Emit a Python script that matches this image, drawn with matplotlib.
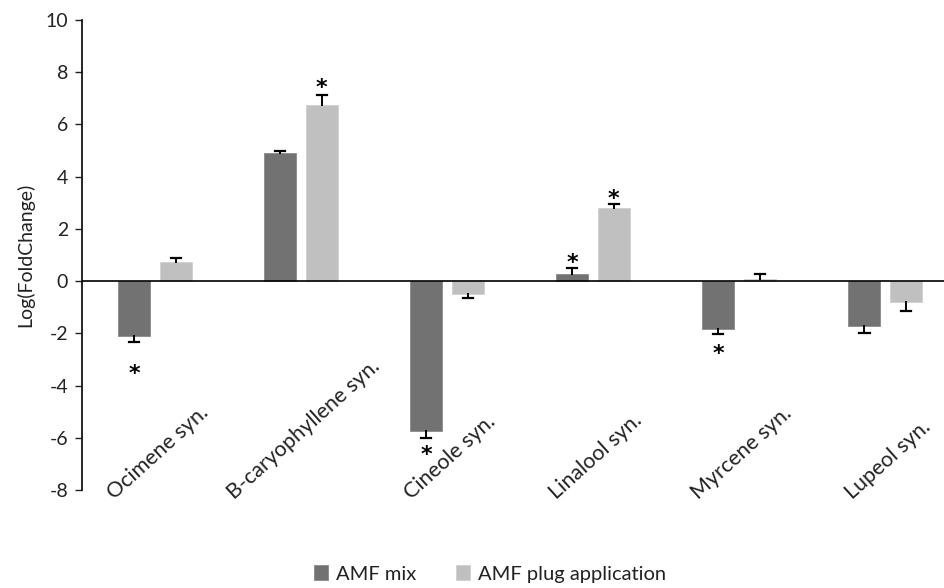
import matplotlib.pyplot as plt
import numpy as np

plt.rcParams['font.family'] = ['Lato', 'DejaVu Sans']
plt.rcParams['axes.unicode_minus'] = False

categories = ["Ocimene syn.", "B-caryophyllene syn.", "Cineole syn.",
              "Linalool syn.", "Myrcene syn.", "Lupeol syn."]
amf_mix = [-2.11, 4.90, -5.75, 0.28, -1.83, -1.71]
amf_mix_err = [0.22, 0.09, 0.25, 0.22, 0.19, 0.27]
amf_plug = [0.72, 6.76, -0.51, 2.81, 0.09, -0.79]
amf_plug_err = [0.18, 0.38, 0.15, 0.13, 0.17, 0.37]
# significance stars: (category index, series, y position)
stars = [(0, "mix", -3.3), (1, "plug", 7.65), (2, "mix", -6.4),
         (3, "mix", 0.95), (3, "plug", 3.4), (4, "mix", -2.55)]

c_mix = "#727272"
c_plug = "#c0c0c0"
x = np.arange(len(categories))
w = 0.22
off = 0.142
cap = 0.035

fig = plt.figure(figsize=(9.45, 5.88), dpi=100)
ax = fig.add_axes([82 / 945, 98 / 588, 863 / 945, 470 / 588])

ax.bar(x - off, amf_mix, w, color=c_mix, edgecolor="#8a8a8a", linewidth=0.6,
       label="AMF mix", zorder=2)
ax.bar(x + off, amf_plug, w, color=c_plug, edgecolor="#d0d0d0", linewidth=0.6,
       label="AMF plug application", zorder=2)

# error bars only on the side away from zero
for xs, vals, errs in [(x - off, amf_mix, amf_mix_err),
                       (x + off, amf_plug, amf_plug_err)]:
    for xi, v, e in zip(xs, vals, errs):
        end = v + e if v >= 0 else v - e
        ax.plot([xi, xi], [v, end], color="black", lw=1.4, zorder=3)
        ax.plot([xi - cap, xi + cap], [end, end], color="black", lw=1.6, zorder=3)

# asterisk glyph sits high in its box, so nudge it down to centre it on y
for i, s, y in stars:
    xx = x[i] - off if s == "mix" else x[i] + off
    ax.text(xx, y - 0.25, "*", ha="center", va="center", fontsize=16,
            fontweight="bold", family="DejaVu Sans")

ax.axhline(0, color="black", linewidth=1.2, zorder=4)

ax.set_xlim(-0.5, 5.41)
ax.set_ylim(-8, 10)
ax.set_yticks(range(-8, 11, 2))
ax.tick_params(axis="y", labelsize=14, length=5, width=1, direction="out",
               colors="#222222", pad=5)
ax.set_xticks([])
for side in ["top", "right", "bottom"]:
    ax.spines[side].set_visible(False)
ax.spines["left"].set_linewidth(1.2)
ax.set_ylabel("Log(FoldChange)", fontsize=14, labelpad=8, color="#222222")

for i, lab in enumerate(categories):
    ax.text(x[i] + 0.02, -8.5, lab, rotation=42, ha="center", va="bottom",
            fontsize=15.5, clip_on=False, color="#222222")

fig.legend(loc="center", bbox_to_anchor=(490 / 945, 1 - 574 / 588), ncol=2,
           frameon=False, fontsize=14.5, handlelength=0.7, handleheight=0.7,
           handletextpad=0.4, columnspacing=2.0, labelcolor="#222222")

fig.savefig("out.png", dpi=100)
